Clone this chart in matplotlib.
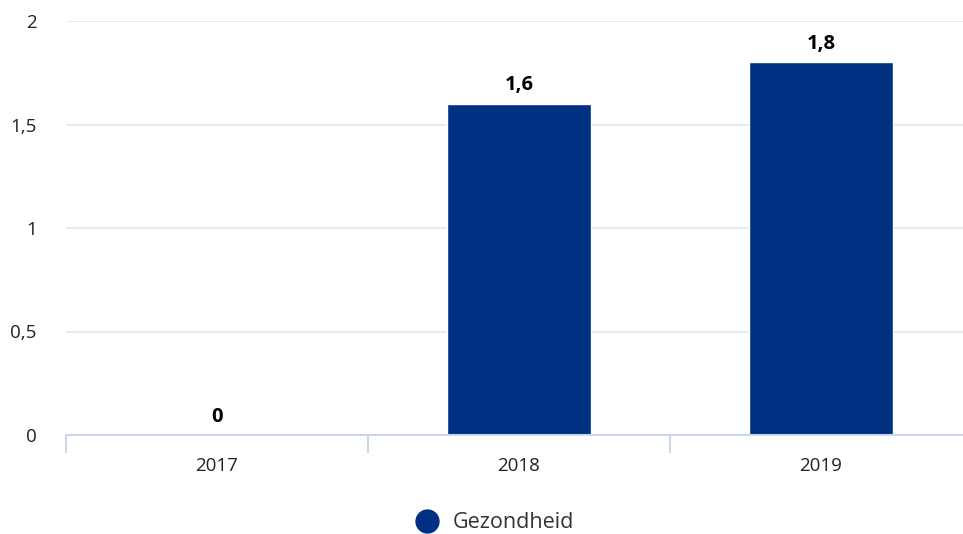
import matplotlib.pyplot as plt
from matplotlib.lines import Line2D

plt.rcParams['font.family'] = ['Open Sans', 'DejaVu Sans']

years = ['2017', '2018', '2019']
values = [0, 1.6, 1.8]
value_labels = ['0', '1,6', '1,8']
y_ticks = [0, 0.5, 1, 1.5, 2]
y_tick_labels = ['0', '0,5', '1', '1,5', '2']
series_name = 'Gezondheid'

bar_color = '#003082'
grid_color = '#e6e6e6'
axis_color = '#ccd6eb'

fig = plt.figure(figsize=(9.63, 5.34), dpi=100)
ax = fig.add_axes([66 / 963, 1 - 435 / 534, 1 - 66 / 963, (435 - 21) / 534])

x = list(range(len(years)))
ax.bar(x, values, width=0.477, color=bar_color, edgecolor='white', linewidth=1, zorder=3)

for xi, v, lab in zip(x, values, value_labels):
    ax.annotate(lab, (xi, v), xytext=(0, 6), textcoords='offset points',
                ha='center', va='bottom', fontsize=14.5, fontweight='bold', color='black')

ax.set_xlim(-0.5, 2.5 - 9 / 302)
ax.set_ylim(0, 2)
ax.set_yticks(y_ticks)
ax.set_yticklabels(y_tick_labels)
ax.set_xticks(x)
ax.set_xticklabels(years)
ax.set_xticks([-0.5, 0.5, 1.5], minor=True)

ax.grid(axis='y', color=grid_color, linewidth=1.2, zorder=0)
for side in ['top', 'right', 'left']:
    ax.spines[side].set_visible(False)
ax.spines['bottom'].set_color(axis_color)
ax.spines['bottom'].set_linewidth(1.5)
ax.spines['bottom'].set_zorder(4)

ax.tick_params(axis='y', length=0, pad=21, labelsize=13.5, labelcolor='#222222')
ax.tick_params(axis='x', which='major', length=0, pad=16, labelsize=13.5, labelcolor='#222222')
ax.tick_params(axis='x', which='minor', length=13, width=1.5, color=axis_color)

handle = Line2D([], [], marker='o', linestyle='none', markersize=16.5,
                markerfacecolor=bar_color, markeredgecolor=bar_color)
fig.legend([handle], [series_name], loc='center', bbox_to_anchor=(490 / 963, 1 - 523 / 534),
           frameon=False, fontsize=15.5, handletextpad=0.2, labelcolor='#333333')

fig.savefig('out.png', dpi=100)
